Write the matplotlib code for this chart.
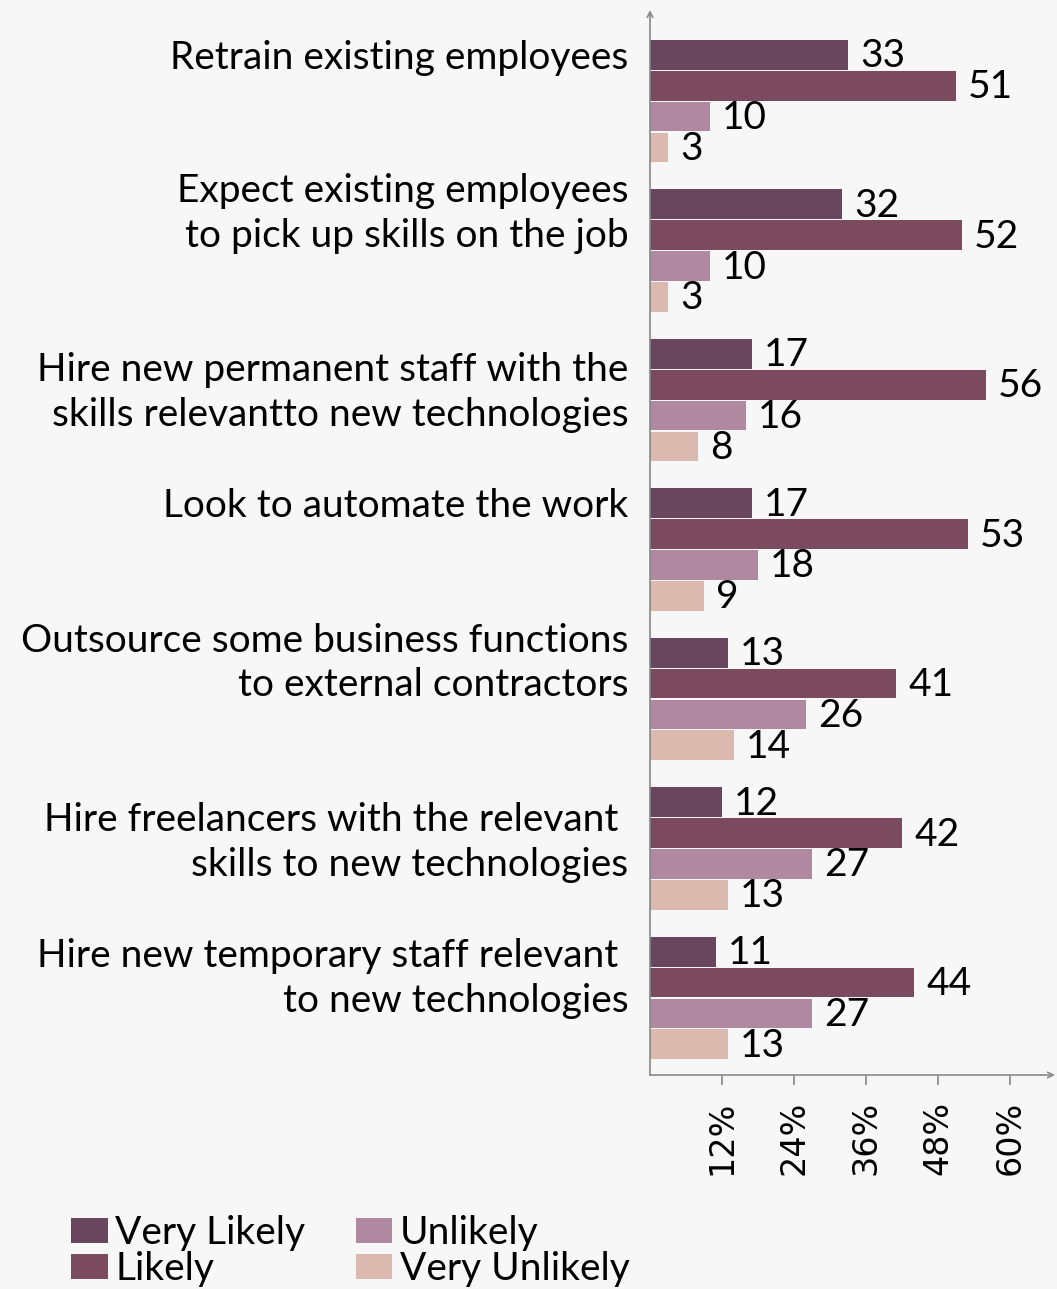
import matplotlib.pyplot as plt
from matplotlib import transforms

plt.rcParams['font.family'] = ['Lato', 'DejaVu Sans']

# data (percent)
categories = [
    "Retrain existing employees",
    "Expect existing employees\nto pick up skills on the job",
    "Hire new permanent staff with the\nskills relevantto new technologies",
    "Look to automate the work",
    "Outsource some business functions\nto external contractors",
    "Hire freelancers with the relevant \nskills to new technologies",
    "Hire new temporary staff relevant \nto new technologies",
]
series_names = ["Very Likely", "Likely", "Unlikely", "Very Unlikely"]
very_likely = [33, 32, 17, 17, 13, 12, 11]
likely = [51, 52, 56, 53, 41, 42, 44]
unlikely = [10, 10, 16, 18, 26, 27, 27]
very_unlikely = [3, 3, 8, 9, 14, 13, 13]
x_ticks = [12, 24, 36, 48, 60]

colors = ["#69455e", "#7b4a5f", "#b088a0", "#dbb9af"]
bg = "#f7f7f7"
axis_col = "#888888"
# vertical nudge of each category label (in group units), layout only
label_shift = [-0.29, -0.25, -0.05, -0.29, -0.24, -0.04, -0.13]
fs = 28

fig = plt.figure(figsize=(10.57, 12.89), dpi=100, facecolor=bg)
ax = fig.add_axes([650 / 1057, 1 - 1075 / 1289, 405 / 1057, 1065 / 1289])
ax.set_facecolor(bg)

all_series = [very_likely, likely, unlikely, very_unlikely]
pitch = 0.207
height = 0.2
for k, (vals, name, col) in enumerate(zip(all_series, series_names, colors)):
    ys = [i + (k - 1.5) * pitch for i in range(len(categories))]
    ax.barh(ys, vals, height=height, color=col, label=name)
    for y, v in zip(ys, vals):
        ax.text(v + 2, y + 0.01, str(v), va='center', ha='left', fontsize=fs, color='black')

ax.set_xlim(0, 67.5)
ax.set_ylim(6.515, -0.609)

for spine in ax.spines.values():
    spine.set_visible(False)
ax.annotate('', xy=(0, 1), xytext=(0, 0), xycoords='axes fraction',
            arrowprops=dict(arrowstyle='->', color=axis_col, lw=1.2, shrinkA=0, shrinkB=0))
ax.annotate('', xy=(1, 0), xytext=(0, 0), xycoords='axes fraction',
            arrowprops=dict(arrowstyle='->', color=axis_col, lw=1.2, shrinkA=0, shrinkB=0))

ax.set_yticks([])
ax.set_xticks(x_ticks)
ax.set_xticklabels([])
ax.tick_params(axis='x', length=7.5, width=1.2, color=axis_col, direction='out')
trans = transforms.blended_transform_factory(ax.transData, ax.transAxes)
for t in x_ticks:
    ax.text(t, -0.094, f"{t}%", transform=trans, rotation=90, ha='center', va='bottom',
            fontsize=24, color='black', family='DejaVu Sans')

ytrans = ax.get_yaxis_transform()
for i, (cat, sh) in enumerate(zip(categories, label_shift)):
    ax.text(-0.054, i + sh, cat, transform=ytrans, ha='right', va='center',
            fontsize=fs, color='black', linespacing=1.3)

fig.legend(loc='upper left', bbox_to_anchor=(52 / 1057, 1 - 1196 / 1289), ncol=2,
           frameon=False, fontsize=fs, handlelength=0.93, handleheight=0.62,
           handletextpad=0.2, columnspacing=1.3, labelspacing=0.0, borderpad=0)

fig.savefig("out.png", dpi=100, facecolor=bg)
